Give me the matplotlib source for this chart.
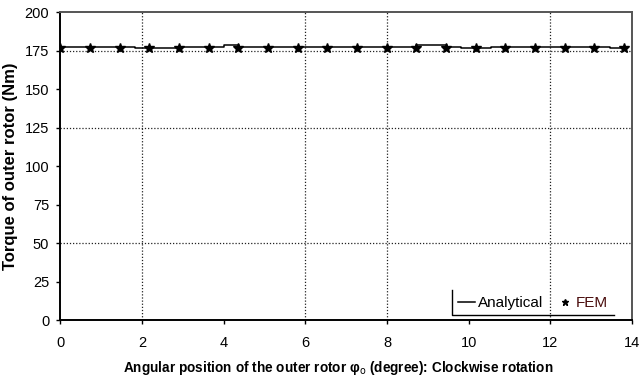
import matplotlib
matplotlib.use("Agg")
import matplotlib.pyplot as plt
from matplotlib.lines import Line2D

plt.rcParams['font.family'] = ['Liberation Sans', 'DejaVu Sans']

# Datos
fem_x = [0, 0.73, 1.45, 2.18, 2.91, 3.63, 4.36, 5.08, 5.81, 6.54,
         7.26, 7.99, 8.72, 9.44, 10.17, 10.89, 11.62, 12.35, 13.07, 13.80]
fem_y = [176.4] * 20

ana_x = [0, 1.82, 2.85, 4.02, 4.38, 8.70, 9.46, 9.82, 10.55, 13.45, 13.80]
ana_y = [177.4, 176.6, 177.4, 178.8, 177.4, 178.8, 177.4, 176.6, 177.4, 176.6, 176.6]

x_ticks = [0, 2, 4, 6, 8, 10, 12, 14]
y_ticks = [0, 25, 50, 75, 100, 125, 150, 175, 200]
x_grid = [2, 6, 8, 12]
y_grid = [50, 125, 175]

fig = plt.figure(figsize=(6.39, 3.79), dpi=100)
ax = fig.add_axes([0.0944, 0.155, 0.8946, 0.813])

# Rejilla punteada
for g in x_grid:
    ax.axvline(g, color='#222222', linestyle=(0, (1, 1.5)), linewidth=0.9, zorder=1)
for g in y_grid:
    ax.axhline(g, color='#222222', linestyle=(0, (1, 1.5)), linewidth=0.9, zorder=1)

ax.plot(ana_x, ana_y, color='black', linewidth=1.1, drawstyle='steps-post', zorder=3)
ax.plot(fem_x, fem_y, linestyle='none', marker='*', markersize=7, color='black', zorder=4)

ax.set_xlim(0, 14)
ax.set_ylim(0, 200)
ax.set_xticks(x_ticks)
ax.set_yticks(y_ticks)
ax.tick_params(axis='both', direction='out', length=3, width=1, labelsize=10.5, colors='black')
ax.tick_params(axis='x', pad=8)
ax.tick_params(axis='y', pad=5)

for s in ['left', 'bottom']:
    ax.spines[s].set_color('black')
    ax.spines[s].set_linewidth(1.4)
for s in ['top', 'right']:
    ax.spines[s].set_color('#555555')
    ax.spines[s].set_linewidth(1.4)

ax.set_xlabel("Angular position of the outer rotor φ$_{\\mathrm{o}}$ (degree): Clockwise rotation",
              fontsize=9.8, fontweight='bold', labelpad=4)
ax.xaxis.set_label_coords(0.486, -0.125)
ax.set_ylabel("Torque of outer rotor (Nm)", fontsize=12, fontweight='bold', labelpad=5)

# Leyenda
handles = [Line2D([], [], color='black', linewidth=1.1),
           Line2D([], [], linestyle='none', marker='*', markersize=5, color='black')]
leg = ax.legend(handles, ['Analytical', 'FEM'], ncol=2, loc='lower right',
                bbox_to_anchor=(0.979, -0.006), frameon=False, fontsize=11,
                handlelength=1.1, handletextpad=0.15, columnspacing=0.9, borderpad=0.3)
leg.get_texts()[1].set_color('#4a0d0d')

# Borde izquierdo e inferior de la leyenda
ax.plot([0.686, 0.686, 0.968], [0.097, 0.017, 0.017], transform=ax.transAxes,
        color='black', linewidth=1, clip_on=False, zorder=5)

fig.savefig("out.png", dpi=100)
